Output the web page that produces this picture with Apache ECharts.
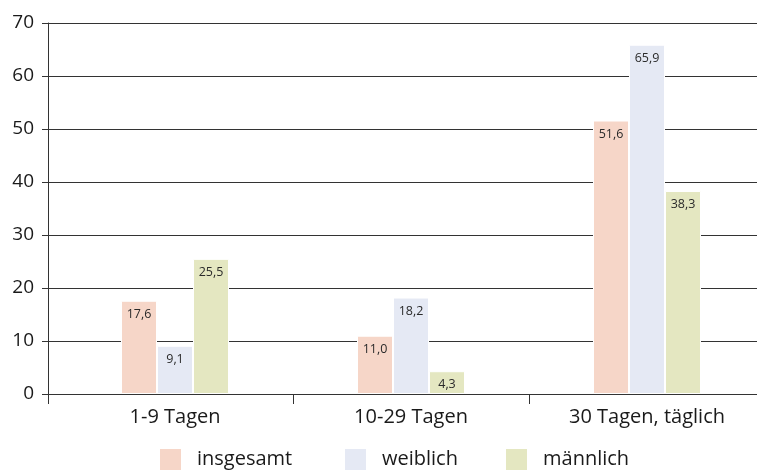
<!DOCTYPE html>
<html><head><meta charset="utf-8">
<script src="https://cdn.jsdelivr.net/npm/echarts@6/dist/echarts.min.js"></script>
<style>html,body{margin:0;padding:0;background:#fff}#c{width:757px;height:470px}</style>
</head><body><div id="c"></div>
<script>
const categories = ['1-9 Tagen', '10-29 Tagen', '30 Tagen, täglich'];
const seriesNames = ['insgesamt', 'weiblich', 'männlich'];
const insgesamt = [17.6, 11.0, 51.6];
const weiblich = [9.1, 18.2, 65.9];
const maennlich = [25.5, 4.3, 38.3];
const yTicks = [0, 10, 20, 30, 40, 50, 60, 70];
const colors = ['#f6d6c8', '#e5e9f4', '#e4e7c1'];

const FONT = 'Open Sans';
const chart = echarts.init(document.getElementById('c'), null, {renderer: 'canvas'});
const fmt = v => v.toFixed(1).replace('.', ',');
const mk = (name, data, i) => ({
  name, type: 'bar', data, xAxisIndex: 1, yAxisIndex: 1,
  barWidth: 36, barGap: '0%', z: 3,
  itemStyle: {color: colors[i], borderColor: '#fff', borderWidth: 1},
  label: {show: true, position: 'insideTop', distance: 7,
    fontFamily: FONT, fontSize: 12.5, color: '#2a2a2a',
    formatter: p => fmt(p.value)}
});
const legendAt = (name, left) => ({
  data: [name], left, top: 447, itemWidth: 23, itemHeight: 23, padding: 0,
  icon: 'rect',
  textStyle: {fontFamily: FONT, fontSize: 20, color: '#1a1a1a', padding: [0, 0, 0, 10]}
});
chart.setOption({
  animation: false,
  legend: [legendAt(seriesNames[0], 158), legendAt(seriesNames[1], 343), legendAt(seriesNames[2], 504)],
  grid: [
    {left: 48, right: -10, top: 23, bottom: 76, outerBoundsMode: 'none'},
    {left: 57, right: -8, top: 23, bottom: 76, outerBoundsMode: 'none'}
  ],
  xAxis: [
    {gridIndex: 0, type: 'category', data: [''], boundaryGap: true,
     axisLine: {show: true, lineStyle: {color: '#333', width: 1}},
     axisTick: {show: true, length: 10, lineStyle: {color: '#333'}},
     axisLabel: {show: false}},
    {gridIndex: 1, type: 'category', data: categories,
     axisLine: {show: false},
     axisTick: {show: true, length: 10, lineStyle: {color: '#333'}, interval: (i) => i !== 0},
     axisLabel: {fontFamily: FONT, fontSize: 20, color: '#1a1a1a', margin: 13}}
  ],
  yAxis: [
    {gridIndex: 0, type: 'value', min: yTicks[0], max: yTicks[yTicks.length - 1], interval: 10,
     axisLine: {show: true, lineStyle: {color: '#333', width: 1}},
     axisTick: {show: true, length: 6, lineStyle: {color: '#333'}},
     axisLabel: {fontFamily: FONT, fontSize: 19, color: '#1a1a1a', margin: 14},
     splitLine: {show: true, lineStyle: {color: '#333', width: 1}}},
    {gridIndex: 1, type: 'value', min: yTicks[0], max: yTicks[yTicks.length - 1], interval: 10, show: false}
  ],
  series: [mk(seriesNames[0], insgesamt, 0), mk(seriesNames[1], weiblich, 1), mk(seriesNames[2], maennlich, 2)]
});
</script></body></html>
